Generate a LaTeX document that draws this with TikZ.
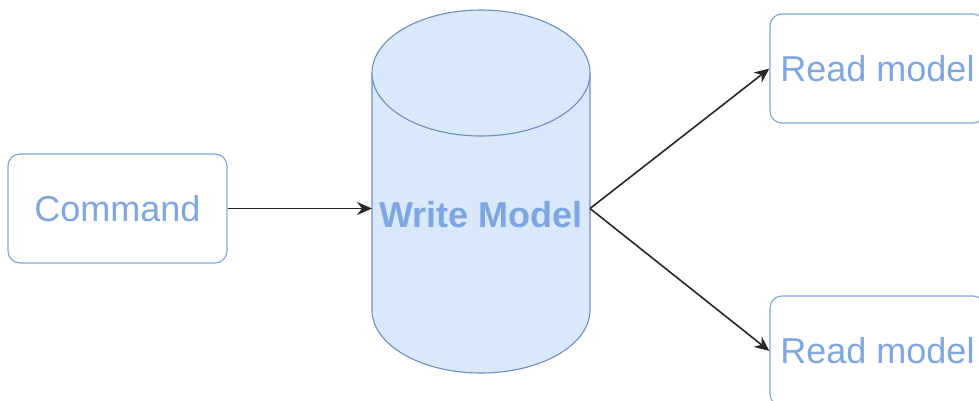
\documentclass[tikz,border=0pt]{standalone}
\usepackage{fontspec}
\setmainfont{Liberation Sans}
\usetikzlibrary{arrows.meta}
\definecolor{boxblue}{HTML}{7EA6E0}
\definecolor{cylfill}{HTML}{DAE8FC}
\definecolor{cylline}{HTML}{6C8EBF}
\begin{document}
\begin{tikzpicture}[x=1pt,y=-1pt,
  box/.style={draw=boxblue, line width=1.2pt, rounded corners=12pt, text=boxblue,
    font=\fontsize{36}{43}\selectfont, inner sep=0pt},
  link/.style={draw=black!85, line width=1.6pt,
    -{Stealth[length=15pt,width=13pt,inset=5pt]}}]
\useasboundingbox (0,0) rectangle (979,400);

% storage cylinder
\fill[cylfill] (372,73) rectangle (590,310);
\fill[cylfill] (481,310) ellipse [x radius=109, y radius=63];
\draw[cylline, line width=1.1pt] (372,73) -- (372,310)
  arc[start angle=180, end angle=0, x radius=109, y radius=63] -- (590,73);
\draw[cylline, line width=1.1pt, fill=cylfill] (481,73) ellipse [x radius=109, y radius=63];
\node[text=boxblue, font=\bfseries\fontsize{36}{43}\selectfont] (wm) at (481,215) {Write Model};
\coordinate (wmL) at (372,208.5);
\coordinate (wmR) at (590,208.5);

% boxes
\node[box, minimum width=219pt, minimum height=109pt] (cmd) at (117.5,208.5) {Command};
\node[box, minimum width=215pt, minimum height=109pt] (rm1) at (877.5,68.5) {Read model};
\node[box, minimum width=215pt, minimum height=110pt] (rm2) at (877.5,351) {Read model};

% connectors
\draw[link] (cmd.east) -- (wmL);
\draw[link] (wmR) -- (rm1.west);
\draw[link] (wmR) -- (rm2.west);
\end{tikzpicture}
\end{document}
